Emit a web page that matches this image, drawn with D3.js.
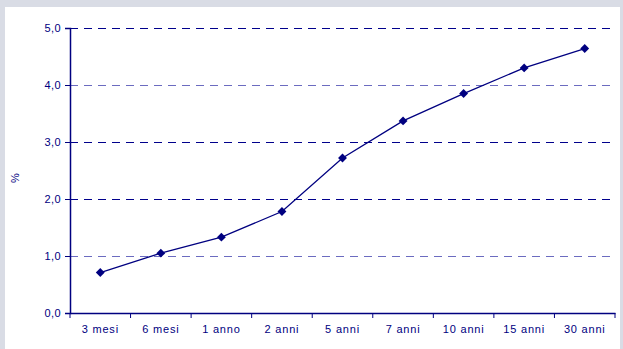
<!DOCTYPE html>
<html><head><meta charset="utf-8">
<script src="https://cdn.jsdelivr.net/npm/d3@7"></script>
<style>body{margin:0;background:#d9dce5;}svg{display:block;}</style>
</head><body>
<script>
const categories = ["3 mesi","6 mesi","1 anno","2 anni","5 anni","7 anni","10 anni","15 anni","30 anni"];
const values = [0.71, 1.05, 1.33, 1.78, 2.72, 3.37, 3.85, 4.30, 4.64];
const yTicks = [0,1,2,3,4,5];

const W = 623, H = 349;
const m = {left:70, right:8, top:28, bottom:36};
const navy = "#000080";
const svg = d3.select("body").append("svg").attr("width",W).attr("height",H);
svg.append("rect").attr("width",W).attr("height",H).attr("fill","#d9dce5");
svg.append("rect").attr("x",5).attr("y",7).attr("width",W-5-3).attr("height",H-7).attr("fill","#fff");

const x = d3.scaleBand().domain(categories).range([m.left, W-m.right]);
const y = d3.scaleLinear().domain([0,5]).range([H-m.bottom, m.top]);

// gridlines
svg.append("g").selectAll("line").data(yTicks.filter(d=>d>0)).join("line")
  .attr("x1",m.left).attr("x2",W-m.right)
  .attr("y1",d=>Math.round(y(d))+0.5).attr("y2",d=>Math.round(y(d))+0.5)
  .attr("stroke",d=>(d===1||d===4)?"#6b6bc0":"#00008c")
  .attr("stroke-width",1).attr("stroke-dasharray","8,6").attr("shape-rendering","crispEdges");

const fmt = d=>d3.format(".1f")(d).replace(".",",");
const yAxis = svg.append("g").attr("transform",`translate(${m.left},0)`)
  .call(d3.axisLeft(y).tickValues(yTicks).tickFormat(fmt).tickSize(5).tickPadding(4));
yAxis.select(".domain").attr("stroke",navy).attr("stroke-width",1.5);
yAxis.selectAll(".tick line").attr("stroke",navy);
yAxis.selectAll("text").attr("fill",navy).style("font-family","Liberation Sans, Arial, sans-serif").style("font-size","11px").style("letter-spacing","0.4px");

const xAxis = svg.append("g").attr("transform",`translate(0,${y(0)})`)
  .call(d3.axisBottom(x).tickSize(0).tickPadding(12));
xAxis.select(".domain").attr("stroke",navy).attr("stroke-width",1.5);
xAxis.selectAll("text").attr("fill",navy).style("font-family","Liberation Sans, Arial, sans-serif").style("font-size","11px").style("letter-spacing","0.8px");
// boundary ticks
const bounds = categories.map(c=>x(c)).concat([x(categories[categories.length-1])+x.bandwidth()]);
xAxis.selectAll(".btick").data(bounds).join("line").attr("class","btick")
  .attr("x1",d=>d).attr("x2",d=>d).attr("y1",0).attr("y2",5).attr("stroke",navy).attr("stroke-width",1);

svg.append("text").attr("transform","translate(19,178) rotate(-90)")
  .attr("text-anchor","middle").attr("fill",navy)
  .style("font-family","Liberation Sans, Arial, sans-serif").style("font-size","11px").text("%");

const pts = categories.map((c,i)=>[x(c)+x.bandwidth()/2, y(values[i])]);
svg.append("path").attr("d",d3.line()(pts)).attr("fill","none").attr("stroke",navy).attr("stroke-width",1.3);
svg.append("g").selectAll("path").data(pts).join("path")
  .attr("transform",d=>`translate(${d[0]},${d[1]})`)
  .attr("d",d3.symbol(d3.symbolDiamond2 || d3.symbolDiamond, 50)())
  .attr("fill",navy);
</script>
</body></html>
